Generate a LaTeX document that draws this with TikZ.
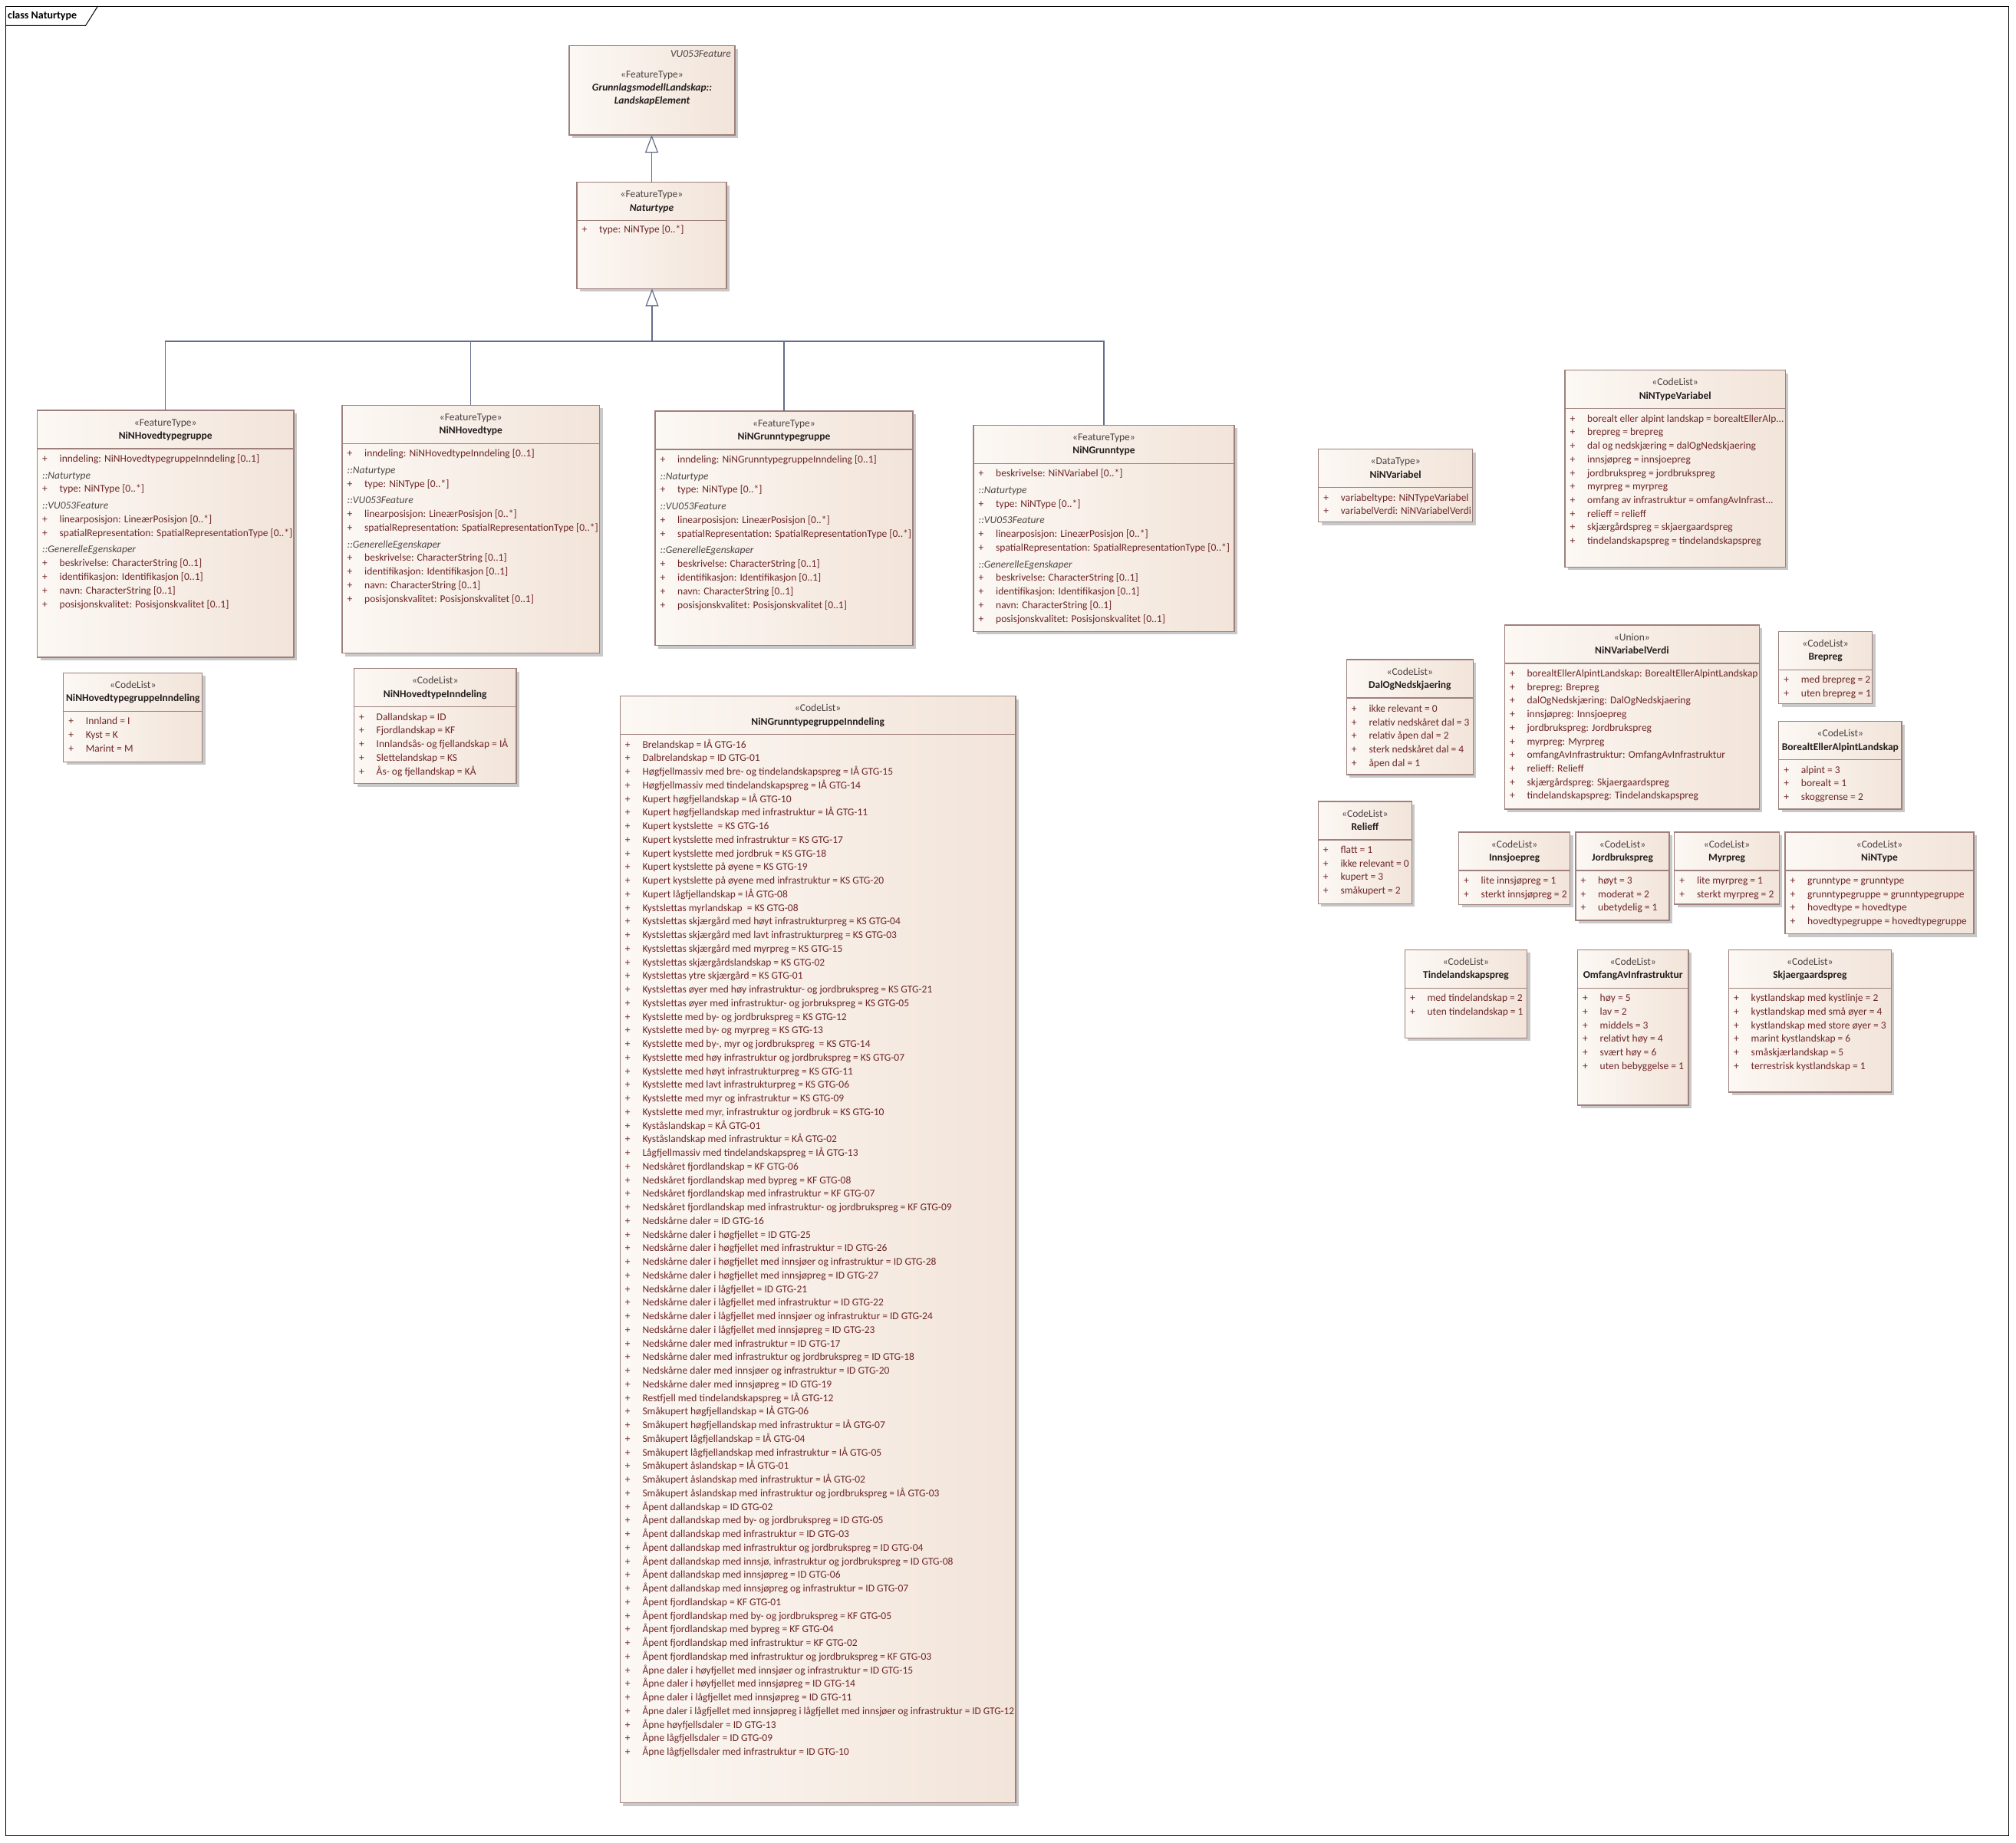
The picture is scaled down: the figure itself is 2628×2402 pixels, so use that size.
\documentclass[tikz,border=0pt]{standalone}
\usepackage{fontspec}
\setmainfont{Carlito}
\usepackage{graphicx}
\usetikzlibrary{arrows.meta}
\definecolor{fillL}{RGB}{252,248,244}
\definecolor{fillR}{RGB}{242,228,217}
\definecolor{bord}{RGB}{158,128,124}
\definecolor{shadc}{RGB}{200,200,200}
\definecolor{attrc}{RGB}{110,38,38}
\definecolor{sectc}{RGB}{80,70,70}
\definecolor{namec}{RGB}{35,30,30}
\definecolor{stc}{RGB}{75,65,65}
\definecolor{connc}{RGB}{100,110,138}
\newcommand\fz{\fontsize{13.5}{16}\selectfont}
\newsavebox\fitbx
\newcommand\fitto[2]{\sbox\fitbx{#2}\ifdim\wd\fitbx>#1\relax\resizebox{#1}{\height}{\usebox\fitbx}\else\usebox\fitbx\fi}
\newcount\nn
\newcommand\nid{\global\advance\nn by 1\relax}
\tikzset{
  umlbox/.style={draw=bord, line width=1.2pt, left color=fillL, right color=fillR, inner sep=0pt, outer sep=0pt},
  divline/.style={draw=bord, line width=1.2pt},
  plus/.style={text=attrc, font=\fz, inner sep=0pt, text height=9pt, text depth=3pt},
  attrtxt/.style={text=attrc, font=\fz, anchor=west, inner sep=0pt, text height=9pt, text depth=3pt},
  secttxt/.style={text=sectc, font=\fz\itshape, anchor=west, inner sep=0pt, text height=9pt, text depth=3pt},
  stereo/.style={text=stc, font=\fz, inner sep=0pt, text height=9pt, text depth=3pt},
  titlet/.style={text=namec, font=\fz\bfseries, inner sep=0pt, text height=9pt, text depth=3pt},
  conn/.style={draw=connc, line width=1.2pt},
  gentip/.style={-{Triangle[length=23pt,width=17pt,fill=white]}},
  framel/.style={draw=black, line width=1pt},
  frametxt/.style={font=\fontsize{14}{16}\selectfont\bfseries, anchor=west, inner sep=0pt, text height=9pt, text depth=3pt},
}
\newcommand\ubox[5]{%
  \fill[shadc] (#2+4,#3+4) rectangle (#4+4,#5+4);
  \pgfmathsetmacro\bw{#4-#2}\pgfmathsetmacro\bh{#5-#3}%
  \node[umlbox, minimum width=\bw pt, minimum height=\bh pt, anchor=north west] (#1) at (#2,#3) {};}
\newcommand\hdr[5]{%
  \pgfmathsetlengthmacro\tw{#3-#1-6}%
  \nid\node[stereo] (n\the\nn) at ({(#1+#3)/2},#2+17) {#4};
  \nid\node[titlet] (n\the\nn) at ({(#1+#3)/2},#2+34.5) {\fitto{\tw}{#5}};
  \draw[divline] (#1,#2+50) -- (#3,#2+50);}
\gdef\rstep{17.85}
\newcommand\rowsat[3]{\xdef\rx{#1}\xdef\rxr{#2}\pgfmathsetmacro\tmp{#3+64.5}\xdef\ry{\tmp}}
\newcommand\arow[1]{%
  \pgfmathsetlengthmacro\maxw{\rxr-\rx-31}%
  \nid\node[plus] (n\the\nn) at (\rx+10,\ry) {+};
  \nid\node[attrtxt] (n\the\nn) at (\rx+29,\ry) {\fitto{\maxw}{#1}};
  \pgfmathsetmacro\tmp{\ry+\rstep}\xdef\ry{\tmp}}
\newcommand\srow[1]{%
  \pgfmathsetmacro\tmp{\ry+3.7}\xdef\ry{\tmp}%
  \nid\node[secttxt] (n\the\nn) at (\rx+6.5,\ry) {#1};
  \pgfmathsetmacro\tmp{\ry+\rstep}\xdef\ry{\tmp}}
\newcommand\featrows{%
  \srow{::Naturtype}
  \arow{type: NiNType [0..*]}
  \srow{::VU053Feature}
  \arow{linearposisjon: LineærPosisjon [0..*]}
  \arow{spatialRepresentation: SpatialRepresentationType [0..*]}
  \srow{::GenerelleEgenskaper}
  \arow{beskrivelse: CharacterString [0..1]}
  \arow{identifikasjon: Identifikasjon [0..1]}
  \arow{navn: CharacterString [0..1]}
  \arow{posisjonskvalitet: Posisjonskvalitet [0..1]}}
\begin{document}
\begin{tikzpicture}[x=1pt,y=-1pt]
\useasboundingbox (0,0) rectangle (2628,2402);
\fill[white] (0,0) rectangle (2628,2402);
% frame
\draw[framel] (7.7,8) rectangle (2618,2393);
\draw[framel] (7.7,33.3) -- (111.6,33.3) -- (127.5,8);
\node[frametxt] (frm) at (10,21) {class Naturtype};

% LandskapElement
\ubox{le}{742}{59.6}{958}{176}
\node[secttxt, anchor=east] (levu) at (953,71) {VU053Feature};
\node[stereo] (lest) at (850,98) {«FeatureType»};
\node[titlet, font=\fz\bfseries\itshape] (len1) at (850,115) {GrunnlagsmodellLandskap::};
\node[titlet, font=\fz\bfseries\itshape] (len2) at (850,132) {LandskapElement};

% Naturtype
\ubox{nt}{752}{237.5}{947}{376.4}
\hdr{752}{237.5}{947}{«FeatureType»}{\itshape Naturtype}
\rowsat{752}{947}{236}
\arow{type: NiNType [0..*]}

% NiNHovedtypegruppe
\ubox{hg}{48.5}{535}{383}{857}
\hdr{48.5}{535}{383}{«FeatureType»}{NiNHovedtypegruppe}
\rowsat{48.5}{383}{535}
\arow{inndeling: NiNHovedtypegruppeInndeling [0..1]}
\featrows

% NiNHovedtype
\ubox{ht}{446}{528.3}{781.6}{851.7}
\hdr{446}{528.3}{781.6}{«FeatureType»}{NiNHovedtype}
\rowsat{446}{781.6}{528.3}
\arow{inndeling: NiNHovedtypeInndeling [0..1]}
\featrows

% NiNGrunntypegruppe
\ubox{gg}{854}{536}{1190}{841.7}
\hdr{854}{536}{1190}{«FeatureType»}{NiNGrunntypegruppe}
\rowsat{854}{1190}{536}
\arow{inndeling: NiNGrunntypegruppeInndeling [0..1]}
\featrows

% NiNGrunntype
\ubox{gt}{1269}{554.3}{1609}{823.3}
\hdr{1269}{554.3}{1609}{«FeatureType»}{NiNGrunntype}
\rowsat{1269}{1609}{554.3}
\arow{beskrivelse: NiNVariabel [0..*]}
\featrows

% NiNVariabel
\ubox{nv}{1718.7}{585.7}{1919.7}{680.7}
\hdr{1718.7}{585.7}{1919.7}{«DataType»}{NiNVariabel}
\rowsat{1718.7}{1919.7}{585.7}
\gdef\rstep{17.7}
\arow{variabeltype: NiNTypeVariabel}
\arow{variabelVerdi: NiNVariabelVerdi}

% NiNTypeVariabel
\ubox{ntv}{2040}{482.7}{2327.3}{739.3}
\hdr{2040}{482.7}{2327.3}{«CodeList»}{NiNTypeVariabel}
\rowsat{2040}{2327.3}{482.7}
\arow{borealt eller alpint landskap = borealtEllerAlp...}
\arow{brepreg = brepreg}
\arow{dal og nedskjæring = dalOgNedskjaering}
\arow{innsjøpreg = innsjoepreg}
\arow{jordbrukspreg = jordbrukspreg}
\arow{myrpreg = myrpreg}
\arow{omfang av infrastruktur = omfangAvInfrast...}
\arow{relieff = relieff}
\arow{skjærgårdspreg = skjaergaardspreg}
\arow{tindelandskapspreg = tindelandskapspreg}

% NiNHovedtypegruppeInndeling
\ubox{hgi}{82.7}{877.3}{263.8}{993.3}
\hdr{82.7}{877.3}{263.8}{«CodeList»}{NiNHovedtypegruppeInndeling}
\rowsat{82.7}{263.8}{877.3}
\arow{Innland = I}
\arow{Kyst = K}
\arow{Marint = M}

% NiNHovedtypeInndeling
\ubox{hti}{461.5}{871.7}{673}{1021.7}
\hdr{461.5}{871.7}{673}{«CodeList»}{NiNHovedtypeInndeling}
\rowsat{461.5}{673}{871.7}
\arow{Dallandskap = ID}
\arow{Fjordlandskap = KF}
\arow{Innlandsås- og fjellandskap = IÅ}
\arow{Slettelandskap = KS}
\arow{Ås- og fjellandskap = KÅ}

% NiNGrunntypegruppeInndeling
\ubox{ggi}{808.3}{907.5}{1324}{2350.5}
\hdr{808.3}{907.5}{1324}{«CodeList»}{NiNGrunntypegruppeInndeling}
\rowsat{808.3}{1324}{907.5}
\gdef\rstep{17.75}
\foreach \itm in {
Brelandskap = IÅ GTG-16,
Dalbrelandskap = ID GTG-01,
Høgfjellmassiv med bre- og tindelandskapspreg = IÅ GTG-15,
Høgfjellmassiv med tindelandskapspreg = IÅ GTG-14,
Kupert høgfjellandskap = IÅ GTG-10,
Kupert høgfjellandskap med infrastruktur = IÅ GTG-11,
Kupert kystslette~ = KS GTG-16,
Kupert kystslette med infrastruktur = KS GTG-17,
Kupert kystslette med jordbruk = KS GTG-18,
Kupert kystslette på øyene = KS GTG-19,
Kupert kystslette på øyene med infrastruktur = KS GTG-20,
Kupert lågfjellandskap = IÅ GTG-08,
Kystslettas myrlandskap~ = KS GTG-08,
Kystslettas skjærgård med høyt infrastrukturpreg = KS GTG-04,
Kystslettas skjærgård med lavt infrastrukturpreg = KS GTG-03,
Kystslettas skjærgård med myrpreg = KS GTG-15,
Kystslettas skjærgårdslandskap = KS GTG-02,
Kystslettas ytre skjærgård = KS GTG-01,
Kystslettas øyer med høy infrastruktur- og jordbrukspreg = KS GTG-21,
Kystslettas øyer med infrastruktur- og jorbrukspreg = KS GTG-05,
Kystslette med by- og jordbrukspreg = KS GTG-12,
Kystslette med by- og myrpreg = KS GTG-13,
{Kystslette med by-, myr og jordbrukspreg~ = KS GTG-14},
Kystslette med høy infrastruktur og jordbrukspreg = KS GTG-07,
Kystslette med høyt infrastrukturpreg = KS GTG-11,
Kystslette med lavt infrastrukturpreg = KS GTG-06,
Kystslette med myr og infrastruktur = KS GTG-09,
{Kystslette med myr, infrastruktur og jordbruk = KS GTG-10},
Kyståslandskap = KÅ GTG-01,
Kyståslandskap med infrastruktur = KÅ GTG-02,
Lågfjellmassiv med tindelandskapspreg = IÅ GTG-13,
Nedskåret fjordlandskap = KF GTG-06,
Nedskåret fjordlandskap med bypreg = KF GTG-08,
Nedskåret fjordlandskap med infrastruktur = KF GTG-07,
Nedskåret fjordlandskap med infrastruktur- og jordbrukspreg = KF GTG-09,
Nedskårne daler = ID GTG-16,
Nedskårne daler i høgfjellet = ID GTG-25,
Nedskårne daler i høgfjellet med infrastruktur = ID GTG-26,
Nedskårne daler i høgfjellet med innsjøer og infrastruktur = ID GTG-28,
Nedskårne daler i høgfjellet med innsjøpreg = ID GTG-27,
Nedskårne daler i lågfjellet = ID GTG-21,
Nedskårne daler i lågfjellet med infrastruktur = ID GTG-22,
Nedskårne daler i lågfjellet med innsjøer og infrastruktur = ID GTG-24,
Nedskårne daler i lågfjellet med innsjøpreg = ID GTG-23,
Nedskårne daler med infrastruktur = ID GTG-17,
Nedskårne daler med infrastruktur og jordbrukspreg = ID GTG-18,
Nedskårne daler med innsjøer og infrastruktur = ID GTG-20,
Nedskårne daler med innsjøpreg = ID GTG-19,
Restfjell med tindelandskapspreg = IÅ GTG-12,
Småkupert høgfjellandskap = IÅ GTG-06,
Småkupert høgfjellandskap med infrastruktur = IÅ GTG-07,
Småkupert lågfjellandskap = IÅ GTG-04,
Småkupert lågfjellandskap med infrastruktur = IÅ GTG-05,
Småkupert åslandskap = IÅ GTG-01,
Småkupert åslandskap med infrastruktur = IÅ GTG-02,
Småkupert åslandskap med infrastruktur og jordbrukspreg = IÅ GTG-03,
Åpent dallandskap = ID GTG-02,
Åpent dallandskap med by- og jordbrukspreg = ID GTG-05,
Åpent dallandskap med infrastruktur = ID GTG-03,
Åpent dallandskap med infrastruktur og jordbrukspreg = ID GTG-04,
{Åpent dallandskap med innsjø, infrastruktur og jordbrukspreg = ID GTG-08},
Åpent dallandskap med innsjøpreg = ID GTG-06,
Åpent dallandskap med innsjøpreg og infrastruktur = ID GTG-07,
Åpent fjordlandskap = KF GTG-01,
Åpent fjordlandskap med by- og jordbrukspreg = KF GTG-05,
Åpent fjordlandskap med bypreg = KF GTG-04,
Åpent fjordlandskap med infrastruktur = KF GTG-02,
Åpent fjordlandskap med infrastruktur og jordbrukspreg = KF GTG-03,
Åpne daler i høyfjellet med innsjøer og infrastruktur = ID GTG-15,
Åpne daler i høyfjellet med innsjøpreg = ID GTG-14,
Åpne daler i lågfjellet med innsjøpreg = ID GTG-11,
Åpne daler i lågfjellet med innsjøpreg i lågfjellet med innsjøer og infrastruktur = ID GTG-12,
Åpne høyfjellsdaler = ID GTG-13,
Åpne lågfjellsdaler = ID GTG-09,
Åpne lågfjellsdaler med infrastruktur = ID GTG-10}
{\arow{\itm}}
\gdef\rstep{17.7}

% DalOgNedskjaering
\ubox{dal}{1755.3}{860}{1920.3}{1010}
\hdr{1755.3}{860}{1920.3}{«CodeList»}{DalOgNedskjaering}
\rowsat{1755.3}{1920.3}{861}
\arow{ikke relevant = 0}
\arow{relativ nedskåret dal = 3}
\arow{relativ åpen dal = 2}
\arow{sterk nedskåret dal = 4}
\arow{åpen dal = 1}

% NiNVariabelVerdi
\ubox{nvv}{1961.4}{815}{2293.3}{1055}
\hdr{1961.4}{815}{2293.3}{«Union»}{NiNVariabelVerdi}
\rowsat{1961.4}{2293.3}{815}
\arow{borealtEllerAlpintLandskap: BorealtEllerAlpintLandskap}
\arow{brepreg: Brepreg}
\arow{dalOgNedskjæring: DalOgNedskjaering}
\arow{innsjøpreg: Innsjoepreg}
\arow{jordbrukspreg: Jordbrukspreg}
\arow{myrpreg: Myrpreg}
\arow{omfangAvInfrastruktur: OmfangAvInfrastruktur}
\arow{relieff: Relieff}
\arow{skjærgårdspreg: Skjaergaardspreg}
\arow{tindelandskapspreg: Tindelandskapspreg}

% Brepreg
\ubox{bre}{2318.7}{823.3}{2440.6}{917.7}
\hdr{2318.7}{823.3}{2440.6}{«CodeList»}{Brepreg}
\rowsat{2318.7}{2440.6}{823.3}
\arow{med brepreg = 2}
\arow{uten brepreg = 1}

% BorealtEllerAlpintLandskap
\ubox{bor}{2318.7}{940.7}{2479}{1055}
\hdr{2318.7}{940.7}{2479}{«CodeList»}{BorealtEllerAlpintLandskap}
\rowsat{2318.7}{2479}{940.7}
\arow{alpint = 3}
\arow{borealt = 1}
\arow{skoggrense = 2}

% Relieff
\ubox{rel}{1718.3}{1045}{1840.4}{1178.3}
\hdr{1718.3}{1045}{1840.4}{«CodeList»}{Relieff}
\rowsat{1718.3}{1840.4}{1045}
\arow{flatt = 1}
\arow{ikke relevant = 0}
\arow{kupert = 3}
\arow{småkupert = 2}

% Innsjoepreg
\ubox{inn}{1901.5}{1085}{2046.8}{1179.3}
\hdr{1901.5}{1085}{2046.8}{«CodeList»}{Innsjoepreg}
\rowsat{1901.5}{2046.8}{1085}
\arow{lite innsjøpreg = 1}
\arow{sterkt innsjøpreg = 2}

% Jordbrukspreg
\ubox{jor}{2054}{1085}{2176}{1200}
\hdr{2054}{1085}{2176}{«CodeList»}{Jordbrukspreg}
\rowsat{2054}{2176}{1085}
\arow{høyt = 3}
\arow{moderat = 2}
\arow{ubetydelig = 1}

% Myrpreg
\ubox{myr}{2182.8}{1085}{2319.3}{1179}
\hdr{2182.8}{1085}{2319.3}{«CodeList»}{Myrpreg}
\rowsat{2182.8}{2319.3}{1085}
\arow{lite myrpreg = 1}
\arow{sterkt myrpreg = 2}

% NiNType
\ubox{nty}{2327}{1085}{2573}{1217.7}
\hdr{2327}{1085}{2573}{«CodeList»}{NiNType}
\rowsat{2327}{2573}{1085}
\arow{grunntype = grunntype}
\arow{grunntypegruppe = grunntypegruppe}
\arow{hovedtype = hovedtype}
\arow{hovedtypegruppe = hovedtypegruppe}

% Tindelandskapspreg
\ubox{tin}{1831.4}{1238.3}{1990.5}{1353.3}
\hdr{1831.4}{1238.3}{1990.5}{«CodeList»}{Tindelandskapspreg}
\rowsat{1831.4}{1990.5}{1238.3}
\arow{med tindelandskap = 2}
\arow{uten tindelandskap = 1}

% OmfangAvInfrastruktur
\ubox{omf}{2056.5}{1238.3}{2200.9}{1441}
\hdr{2056.5}{1238.3}{2200.9}{«CodeList»}{OmfangAvInfrastruktur}
\rowsat{2056.5}{2200.9}{1238.3}
\arow{høy = 5}
\arow{lav = 2}
\arow{middels = 3}
\arow{relativt høy = 4}
\arow{svært høy = 6}
\arow{uten bebyggelse = 1}

% Skjaergaardspreg
\ubox{skj}{2253.5}{1238.3}{2465.2}{1424}
\hdr{2253.5}{1238.3}{2465.2}{«CodeList»}{Skjaergaardspreg}
\rowsat{2253.5}{2465.2}{1238.3}
\arow{kystlandskap med kystlinje = 2}
\arow{kystlandskap med små øyer = 4}
\arow{kystlandskap med store øyer = 3}
\arow{marint kystlandskap = 6}
\arow{småskjærlandskap = 5}
\arow{terrestrisk kystlandskap = 1}

% generalizations
\draw[conn, gentip] (nt.north) -- (nt.north |- le.south);
\coordinate (tj) at (850,445);
\draw[conn] (hg.north) |- (tj);
\draw[conn] (ht.north) |- (tj);
\draw[conn] (gg.north) |- (tj);
\draw[conn] (gt.north) |- (tj);
\draw[conn, gentip] (tj) -- (tj |- nt.south);
\end{tikzpicture}
\end{document}
